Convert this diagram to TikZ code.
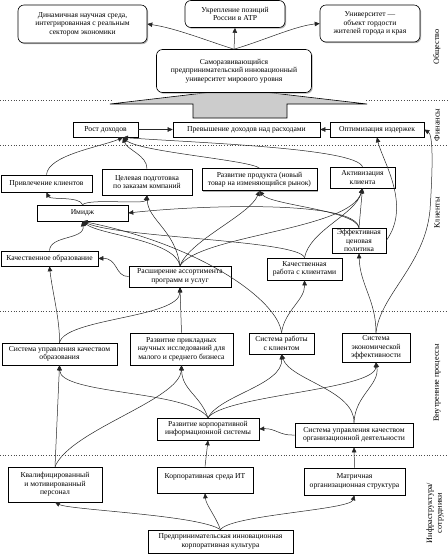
\documentclass[tikz,border=0pt]{standalone}
\usepackage{fontspec}
\setmainfont{Liberation Serif}
\usetikzlibrary{arrows.meta,shadows}
\newcommand{\bfs}{\fontsize{7.6}{8.4}\selectfont}
\newcommand{\lfs}{\fontsize{8.2}{9.6}\selectfont}
\begin{document}
\begin{tikzpicture}[x=1pt,y=1pt,
  box/.style={draw, fill=white, align=center, inner sep=1pt, font=\bfs, line width=0.6pt,
    drop shadow={shadow xshift=1.2pt, shadow yshift=-1.2pt, fill=gray!60, opacity=1}},
  rbox/.style={box, rounded corners=6pt},
  arr/.style={-{Triangle[length=5pt,width=4.5pt]}, line width=0.5pt, black!85},
  sep/.style={dotted, line width=0.7pt, black!70},
  lab/.style={rotate=90, font=\lfs, align=center, inner sep=0pt}]
\useasboundingbox (0,0) rectangle (448,-558);
\fill[white] (0,0) rectangle (448,-558);

% separators
\draw[sep] (0,-100) -- (112,-100);
\draw[sep] (366,-100) -- (448,-100);
\draw[sep] (0,-145) -- (448,-145);
\draw[sep] (0,-311) -- (448,-311);
\draw[sep] (0,-455) -- (448,-455);

% big grey arrow
\filldraw[fill=gray!40, draw=black, line width=0.6pt]
  (110,-104) -- (238,-89) -- (367,-104) -- (287,-104) -- (287,-118) -- (193,-118) -- (193,-104) -- cycle;

% society
\node[rbox, minimum width=129, minimum height=38] (D) at (82.5,-24) {Динамичная научная среда,\\интегрированная с реальным\\сектором экономики};
\node[rbox, minimum width=100, minimum height=27] (U) at (235,-14) {Укрепление позиций\\России в АТР};
\node[rbox, minimum width=100, minimum height=37] (G) at (370,-23.5) {Университет —\\объект гордости\\жителей города и края};
\node[rbox, minimum width=155, minimum height=43] (S) at (234,-71) {Саморазвивающийся\\предпринимательский инновационный\\университет мирового уровня};

% finance
\node[box, minimum width=65, minimum height=15] (Rost) at (105.5,-129.5) {Рост доходов};
\node[box, minimum width=147, minimum height=15] (Prev) at (246.5,-129.5) {Превышение доходов над расходами};
\node[box, minimum width=94, minimum height=15] (Opt) at (377,-129.5) {Оптимизация издержек};

% clients
\node[box, minimum width=91, minimum height=17] (Priv) at (46.5,-183.5) {Привлечение клиентов};
\node[box, minimum width=90, minimum height=26] (Cel) at (147,-182) {Целевая подготовка\\по заказам компаний};
\node[box, minimum width=115, minimum height=22] (Razv) at (259.5,-179.5) {Развитие продукта (новый\\товар на изменяющийся рынок)};
\node[box, minimum width=65, minimum height=21] (Aktiv) at (362.5,-177.5) {Активизация\\клиента};
\node[box, minimum width=91, minimum height=16] (Im) at (82.5,-213) {Имидж};
\node[box, minimum width=97, minimum height=15] (KO) at (49.5,-258.5) {Качественное образование};
\node[box, minimum width=102, minimum height=21] (Ras) at (180,-276.5) {Расширение ассортимента\\программ и услуг};
\node[box, minimum width=75, minimum height=22] (KR) at (304.5,-269) {Качественная\\работа с клиентами};
\node[box, minimum width=54, minimum height=25] (Eff) at (359,-240.5) {Эффективная\\ценовая\\политика};

% internal processes
\node[box, minimum width=115, minimum height=22] (SUKO) at (59.5,-354) {Система управления качеством\\образования};
\node[box, minimum width=103, minimum height=32] (RPNI) at (181.5,-349) {Развитие прикладных\\научных исследований для\\малого и среднего бизнеса};
\node[box, minimum width=65, minimum height=21] (SRK) at (281.5,-343.5) {Система работы\\с клиентом};
\node[box, minimum width=68, minimum height=29] (SEE) at (376,-347.5) {Система\\экономической\\эффективности};
\node[box, minimum width=102, minimum height=22] (RKIS) at (208,-429) {Развитие корпоративной\\информационной системы};
\node[box, minimum width=118, minimum height=24] (SUOD) at (354,-435) {Система управления качеством\\организационной деятельности};

% infrastructure
\node[box, minimum width=94, minimum height=35] (KMP) at (55,-484.5) {Квалифицированный\\и мотивированный\\персонал};
\node[box, minimum width=96, minimum height=26] (KIT) at (205,-480) {Корпоративная среда ИТ\\~};
\node[box, minimum width=101, minimum height=27] (MOS) at (354.5,-481.5) {Матричная\\организационная структура};
\node[box, minimum width=145, minimum height=23] (PIKK) at (220.5,-541.5) {Предпринимательская инновационная\\корпоративная культура};

% perspective labels
\node[lab] (L1) at (437,-47) {Общество};
\node[lab] (L2) at (437,-125) {Финансы};
\node[lab] (L3) at (437,-213) {Клиенты};
\node[lab] (L4) at (437,-383) {Внутренние процессы};
\node[lab] (L5) at (435,-513) {Инфраструктура/\\сотрудники};

% connectors: society
\draw[arr] (S.north) .. controls (205,-40) and (175,-28) .. (D.east);
\draw[arr] (S.north) -- (U.south);
\draw[arr] (S.north) .. controls (265,-40) and (295,-26) .. (G.west);

% finance
\draw[arr] (Rost.east) -- (Prev.west);
\draw[arr] (Opt.west) -- (Prev.east);

\coordinate (rb) at (123,-137.5);
\draw[arr] (Priv.north) .. controls (48,-155) and (100,-147) .. (rb);
\draw[arr] (Cel.north) .. controls (147,-155) and (127,-150) .. (rb);
\draw[arr] (Razv.north) .. controls (250,-160) and (140,-152) .. (rb);
\draw[arr] (Aktiv.north) .. controls (355,-148) and (200,-143) .. (rb);
\draw[arr] (Eff.east) .. controls (412,-205) and (382,-160) .. (Opt.south);
\draw[arr] (SEE.north) .. controls (380,-295) and (425,-265) .. (430,-210) .. controls (433,-165) and (433,-135) .. (Opt.east);

% clients
\draw[arr] (Eff.north) -- (Aktiv.south);
\draw[arr] (Eff.north) .. controls (355,-200) and (200,-205) .. (Im.east);
\draw[arr] (Eff.north) .. controls (355,-210) and (270,-205) .. (Razv.south);
\draw[arr] (Im.north) .. controls (80,-196) and (50,-200) .. (Priv.south);
\draw[arr] (Im.north) .. controls (90,-198) and (145,-205) .. (Cel.south);
\draw[arr] (KO.north) .. controls (50,-235) and (85,-240) .. (Im.south);
\draw[arr] (Ras.north) .. controls (175,-240) and (100,-235) .. (Im.south);
\draw[arr] (Ras.west) .. controls (115,-277) and (118,-258) .. (KO.east);
\draw[arr] (Ras.north) .. controls (175,-230) and (148,-220) .. (Cel.south);
\draw[arr] (Ras.north) .. controls (190,-240) and (250,-215) .. (Razv.south);
\draw[arr] (Ras.north) .. controls (200,-235) and (350,-230) .. (Aktiv.south);
\draw[arr] (KR.north) .. controls (310,-230) and (355,-215) .. (Aktiv.south);
\draw[arr] (KR.north) .. controls (300,-240) and (120,-238) .. (Im.south);

% internal -> clients
\draw[arr] (SUKO.north) .. controls (60,-320) and (52,-290) .. (KO.south);
\draw[arr] (SUKO.north) .. controls (65,-318) and (180,-318) .. (Ras.south);
\draw[arr] (RPNI.north) -- (Ras.south);
\draw[arr] (SRK.north) .. controls (285,-310) and (305,-300) .. (KR.south);
\draw[arr] (SRK.north) .. controls (278,-300) and (200,-245) .. (Im.south);
\draw[arr] (SEE.north) .. controls (376,-300) and (360,-285) .. (Eff.south);

% internal
\draw[arr] (RKIS.north) .. controls (190,-390) and (60,-395) .. (SUKO.south);
\draw[arr] (RKIS.north) .. controls (200,-395) and (182,-390) .. (RPNI.south);
\draw[arr] (RKIS.north) .. controls (220,-395) and (283,-385) .. (SRK.south);
\draw[arr] (RKIS.north) .. controls (225,-395) and (375,-390) .. (SEE.south);
\draw[arr] (SUOD.north) .. controls (355,-390) and (290,-380) .. (SRK.south);
\draw[arr] (SUOD.north) .. controls (355,-395) and (380,-385) .. (SEE.south);
\draw[arr] (SUOD.west) .. controls (280,-436) and (275,-428) .. (RKIS.east);

% infrastructure
\draw[arr] (KMP.north) -- (SUKO.south);
\draw[arr] (KMP.north) .. controls (70,-430) and (180,-400) .. (RPNI.south);
\draw[arr] (KIT.north) -- (RKIS.south);
\draw[arr] (MOS.north) -- (SUOD.south);
\draw[arr] (PIKK.north) .. controls (200,-515) and (70,-510) .. (KMP.south);
\draw[arr] (PIKK.north) .. controls (215,-515) and (206,-505) .. (KIT.south);
\draw[arr] (PIKK.north) .. controls (230,-515) and (350,-510) .. (MOS.south);
\end{tikzpicture}
\end{document}
